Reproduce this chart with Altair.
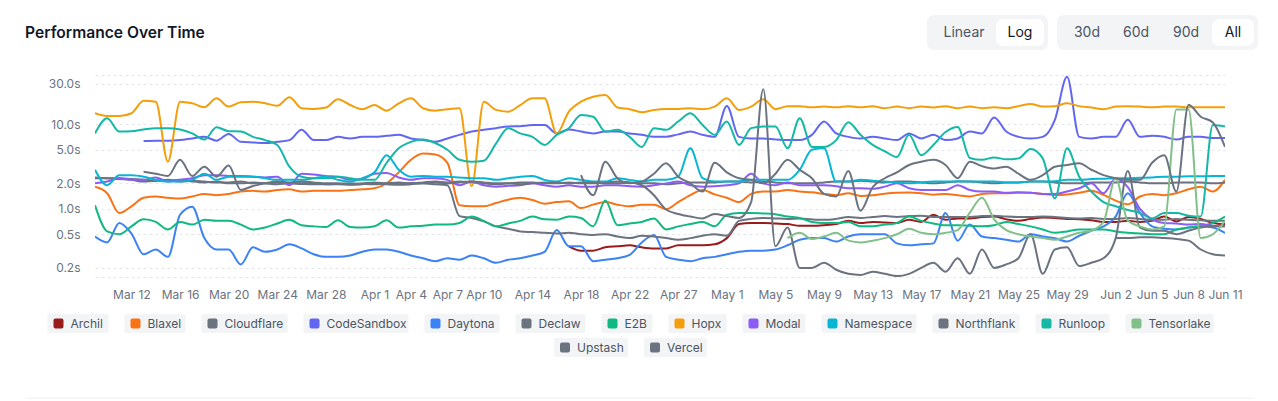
import altair as alt
import pandas as pd

# ---------------- data ----------------
all_days = pd.date_range("2025-03-09", "2025-06-11", freq="D")
days = [d for d in all_days if d != pd.Timestamp("2025-04-25")]
date_labels = [f"{d.strftime('%b')} {d.day}" for d in days]

tick_labels = ["Mar 12", "Mar 16", "Mar 20", "Mar 24", "Mar 28", "Apr 1", "Apr 4", "Apr 7",
               "Apr 10", "Apr 14", "Apr 18", "Apr 22", "Apr 27", "May 1", "May 5", "May 9",
               "May 13", "May 17", "May 21", "May 25", "May 29", "Jun 2", "Jun 5", "Jun 8", "Jun 11"]
y_ticks = [0.2, 0.5, 1, 2, 5, 10, 30]

N = None
archil = [N] * 39 + [
    0.36, 0.32, 0.32, 0.35, 0.36, 0.37, 0.35, 0.34, 0.34, 0.37, 0.37,
    0.37, 0.38, 0.45, 0.66, 0.68, 0.68, 0.67, 0.66, 0.63, 0.63,
    0.64, 0.66, 0.72, 0.68, 0.7, 0.69, 0.68, 0.74, 0.7, 0.85,
    0.74, 0.77, 0.77, 0.8, 0.81, 0.75, 0.72, 0.76, 0.79, 0.78,
    0.76, 0.75, 0.73, 0.7, 0.7, 0.72, 0.7, 0.72, 0.81, 0.71,
    0.8, 0.76, 0.68, 0.66]
blaxel = [
    1.83, 1.53, 0.89, 1.07, 1.35, 1.4, 1.35, 1.32, 1.4, 1.5,
    1.45, 1.5, 1.6, 1.63, 1.6, 1.67, 1.7, 1.6, 1.63, 1.63,
    1.63, 1.67, 1.7, 1.75, 2.0, 2.7, 3.8, 4.5, 4.4, 3.5,
    1.1, 1.07, 1.07, 1.17, 1.28, 1.35, 1.27, 1.15, 1.2, 1.23,
    1.02, 1.12, 1.2, 1.12, 1.07, 1.12, 1.12, 0.99, 1.2, 1.45,
    1.67, 1.48, 1.35, 1.2, 1.5, 1.6, 1.6, 1.67, 1.6, 1.57,
    1.5, 1.45, 1.53, 1.42, 1.45, 1.51, 1.55, 1.56, 1.53, 1.47,
    1.5, 1.45, 1.4, 1.5, 1.53, 1.53, 1.55, 1.55, 1.5, 1.46,
    1.48, 1.55, 1.63, 1.46, 1.25, 1.13, 1.4, 1.5, 1.45, 1.53,
    1.7, 1.83, 1.6, 2.2]
cloudflare = [
    2.3, 2.3, 2.25, 2.2, 2.1, 2.15, 2.2, 2.1, 2.15, 2.1,
    2.05, 2.05, 2.1, 2.0, 2.0, 2.05, 2.0, 2.0, 2.0, 1.95,
    1.97, 2.0, 1.97, 1.95, 2.0, 2.05, 2.0, 2.05, 2.1, 2.05,
    2.1, 2.05, 2.0, 1.95, 2.0, 2.05, 2.05, 2.0, 2.0, 2.05,
    2.0, 2.0, 2.05, 2.1, 2.05, 2.0, 2.0, 1.95, 2.0, 2.05,
    2.05, 2.05, 2.1, 2.1, 2.05, 2.1, 2.05, 2.0, 2.0, 2.0,
    2.05, 2.1, 2.1, 2.15, 2.1, 2.05, 2.1, 2.1, 2.05, 2.0,
    2.05, 2.1, 2.1, 2.05, 2.0, 2.05, 2.05, 2.1, 2.1, 2.05,
    2.0, 2.0, 2.05, 2.05, 2.05, 2.1, 2.05, 2.0, 2.0, 2.05,
    2.05, 2.05, 2.0, 2.05]
codesandbox = [
    N, N, N, N, 6.35, 6.4, 6.4, 6.5, 6.8, 7.1,
    6.4, 7.7, 6.2, 6.1, 6.0, 6.2, 6.5, 8.6, 6.5, 6.5,
    7.1, 6.8, 7.1, 7.1, 7.3, 7.5, 6.8, 6.5, 6.2, 6.8,
    7.5, 8.2, 8.6, 9.0, 9.4, 9.5, 9.8, 9.8, 7.8, 8.7,
    8.2, 7.8, 8.2, 8.2, 7.8, 7.5, 7.1, 7.1, 7.6, 8.2,
    7.5, 7.1, 16.5, 7.1, 6.8, 6.8, 6.6, 6.5, 6.5, 7.5,
    10.8, 7.8, 7.1, 6.8, 7.1, 6.8, 6.5, 7.8, 6.8, 7.5,
    6.5, 6.8, 8.2, 7.8, 12.0, 8.2, 7.1, 6.8, 7.1, 11.3,
    36.5, 7.1, 6.8, 7.1, 7.1, 11.3, 7.1, 7.3, 7.1, 6.6,
    7.1, 7.1, 6.9, 6.9]
daytona = [
    0.47, 0.4, 0.68, 0.51, 0.29, 0.33, 0.27, 0.85, 1.06, 0.45,
    0.33, 0.33, 0.22, 0.35, 0.31, 0.33, 0.38, 0.34, 0.29, 0.27,
    0.27, 0.28, 0.31, 0.33, 0.33, 0.31, 0.28, 0.26, 0.24, 0.26,
    0.25, 0.28, 0.26, 0.23, 0.25, 0.26, 0.28, 0.31, 0.56, 0.36,
    0.36, 0.24, 0.25, 0.26, 0.285, 0.4, 0.49, 0.27, 0.25, 0.24,
    0.26, 0.27, 0.29, 0.31, 0.32, 0.32, 0.33, 0.37, 0.43, 0.45,
    0.45, 0.41, 0.47, 0.5, 0.5, 0.5, 0.39, 0.37, 0.38, 0.39,
    0.89, 0.42, 0.65, 0.47, 0.45, 0.43, 0.41, 0.5, 0.47, 0.45,
    0.41, 0.48, 0.55, 0.62, 0.81, 1.53, 0.89, 0.62, 0.58, 0.57,
    0.6, 0.62, 0.6, 0.52]
declaw = [
    2.35, 2.3, 2.3, 2.25, 2.2, 2.15, 2.15, 2.2, 2.1, 2.05,
    2.1, 2.0, 2.0, 2.05, 2.0, 1.95, 2.0, 1.97, 1.95, 1.95,
    1.95, 1.92, 1.95, 2.0, 1.95, 1.92, 1.95, 2.0, 1.95, 1.9,
    0.82, 0.78, 0.71, 0.62, 0.58, 0.54, 0.53, 0.52, 0.51, 0.52,
    0.5, 0.49, 0.5, 0.47, 0.45, 0.48, 0.47, 0.45, 0.43, 0.45,
    0.48, 0.5, 0.48, 0.72, 0.76, 0.78, 0.77, 0.76, 0.77, 0.75,
    0.74, 0.76, 0.8, 0.78, 0.8, 0.82, 0.8, 0.82, 0.83, 0.8,
    0.8, 0.8, 0.8, 0.82, 0.83, 0.81, 0.8, 0.8, 0.81, 0.8,
    0.78, 0.77, 0.78, 0.76, 0.76, 0.78, 0.76, 0.74, 0.74, 0.76,
    0.74, 0.73, 0.72, 0.72]
e2b = [
    1.1, 0.54, 0.5, 0.62, 0.75, 0.7, 0.57, 0.7, 0.65, 0.74,
    0.72, 0.72, 0.65, 0.57, 0.6, 0.67, 0.74, 0.64, 0.62, 0.61,
    0.73, 0.61, 0.6, 0.62, 0.73, 0.6, 0.62, 0.63, 0.65, 0.65,
    0.68, 0.81, 0.72, 0.62, 0.67, 0.72, 0.81, 0.75, 0.74, 0.81,
    0.78, 0.62, 1.25, 0.64, 0.67, 0.7, 0.77, 0.57, 0.62, 0.66,
    0.7, 0.62, 0.85, 0.89, 0.89, 0.88, 0.86, 0.81, 0.78, 0.7,
    0.68, 0.68, 0.7, 0.62, 0.62, 0.65, 0.68, 0.81, 0.72, 0.67,
    0.64, 0.64, 0.63, 0.62, 0.64, 0.7, 0.66, 0.62, 0.57, 0.52,
    0.54, 0.57, 0.57, 0.57, 0.54, 0.52, 0.51, 0.5, 0.5, 0.57,
    0.6, 0.62, 0.68, 0.81]
hopx = [
    13.5, 12.5, 12.5, 13.5, 19.0, 18.5, 3.6, 18.5, 17.7, 15.9,
    20.3, 16.2, 18.2, 18.5, 17.7, 16.6, 20.9, 15.5, 15.2, 15.8,
    19.8, 16.9, 15.1, 16.9, 14.5, 17.7, 20.3, 15.5, 14.5, 15.1,
    15.5, 1.85, 18.5, 14.8, 14.1, 16.9, 20.3, 20.3, 7.8, 14.1,
    18.5, 21.2, 22.2, 15.8, 15.1, 13.9, 14.8, 15.2, 15.2, 15.5,
    15.1, 16.2, 20.3, 14.8, 16.2, 19.8, 15.1, 16.4, 16.4, 15.9,
    16.2, 15.9, 16.4, 15.9, 16.4, 15.5, 16.2, 15.5, 16.2, 15.8,
    16.4, 15.5, 16.2, 15.5, 15.9, 15.5, 16.4, 17.4, 16.2, 16.4,
    17.7, 16.4, 15.8, 15.1, 16.2, 16.4, 16.2, 15.9, 16.2, 16.2,
    15.9, 15.9, 15.9, 15.9]
modal = [
    2.0, 2.1, 2.3, 2.2, 2.2, 2.35, 2.1, 2.2, 2.3, 2.5,
    2.5, 2.45, 2.45, 2.4, 2.35, 2.4, 1.9, 2.6, 2.55, 2.45,
    2.4, 2.2, 2.25, 2.6, 2.65, 2.35, 2.2, 2.3, 2.3, 2.2,
    1.9, 2.1, 1.9, 1.83, 1.87, 1.9, 2.0, 1.9, 1.83, 1.9,
    1.83, 1.83, 1.9, 1.9, 1.85, 1.83, 1.9, 2.0, 2.1, 1.9,
    1.83, 1.85, 1.9, 2.0, 2.6, 2.0, 1.9, 2.05, 1.9, 1.9,
    1.9, 1.85, 1.75, 1.75, 1.73, 1.83, 2.0, 1.75, 1.67, 1.67,
    1.67, 1.9, 1.67, 1.6, 1.6, 1.55, 1.57, 1.55, 1.5, 1.5,
    1.6, 1.75, 2.0, 1.53, 2.3, 1.8, 1.0, 0.75, 0.68, 0.67,
    0.65, 0.66, 0.63, 0.62]
namespace = [
    2.9, 1.9, 2.5, 2.5, 2.4, 2.2, 2.1, 2.1, 2.2, 2.6,
    2.2, 2.4, 2.4, 2.4, 2.3, 2.2, 2.2, 2.2, 2.3, 2.4,
    2.2, 2.1, 2.3, 2.7, 4.3, 2.9, 2.4, 2.45, 2.4, 2.4,
    2.35, 2.3, 2.3, 2.2, 2.3, 2.4, 2.45, 2.2, 2.1, 2.3,
    2.2, 2.1, 2.1, 2.3, 2.2, 2.1, 2.2, 2.2, 2.4, 5.2,
    2.3, 2.1, 2.1, 2.1, 2.2, 2.2, 2.2, 2.2, 2.9, 5.0,
    5.2, 2.1, 2.1, 2.2, 2.15, 2.1, 2.05, 2.0, 2.05, 2.1,
    2.1, 2.12, 2.1, 2.1, 2.1, 2.05, 2.05, 2.1, 2.1, 2.12,
    2.2, 2.2, 2.25, 2.27, 2.3, 2.3, 2.33, 2.35, 2.4, 2.4,
    2.42, 2.42, 2.45, 2.45]
northflank = [
    N, N, N, N, 2.75, 2.6, 2.45, 3.8, 2.45, 3.15,
    2.4, 3.25, 1.67, 1.86, 2.0, 2.1, 2.05, 2.1, 2.05, 2.0,
    2.0, 1.95, 2.0, 2.05, 2.0, 1.97, 2.0, 2.0, 2.05, 2.0,
    2.05, 2.1, 2.05, 2.0, 2.0, 1.95, 2.0, 2.05, 2.05, 2.0,
    2.05, 2.05, 2.0, 2.0, 2.05, 1.9, 1.45, 0.98, 0.87, 0.81,
    0.77, 0.87, 0.82, 0.78, 1.2, 26.0, 0.36, 0.6, 0.2, 0.2,
    0.23, 0.19, 0.17, 0.165, 0.18, 0.17, 0.16, 0.17, 0.2, 0.23,
    0.18, 0.26, 0.17, 0.33, 0.2, 0.22, 0.26, 0.5, 0.17, 0.33,
    0.35, 0.21, 0.23, 0.26, 0.45, 2.8, 0.6, 0.55, 0.55, 0.5,
    0.55, 0.6, 0.62, 0.62]
runloop = [
    7.8, 11.8, 8.2, 8.3, 8.7, 9.0, 9.0, 8.7, 7.8, 6.6,
    9.2, 8.3, 8.2, 7.1, 6.5, 5.7, 3.15, 2.4, 2.3, 2.3,
    2.4, 2.3, 2.2, 2.2, 3.5, 5.2, 6.2, 6.6, 6.0, 5.0,
    3.8, 3.6, 3.7, 5.9, 9.0, 7.8, 7.1, 5.7, 7.5, 9.0,
    12.9, 12.3, 8.2, 8.6, 7.1, 5.4, 9.0, 8.6, 10.8, 13.5,
    9.8, 7.5, 10.8, 5.7, 9.0, 9.4, 9.4, 5.2, 11.8, 5.4,
    5.4, 6.5, 10.6, 7.5, 5.7, 4.8, 4.1, 7.5, 4.3, 5.7,
    8.1, 9.3, 4.0, 3.8, 4.05, 3.85, 3.95, 5.1, 3.95, 1.33,
    5.2, 2.4, 1.6, 1.2, 1.07, 0.97, 0.89, 0.77, 0.89, 0.89,
    0.83, 0.81, 9.8, 9.4]
tensorlake = [N] * 57 + [
    0.45, 0.52, 0.44,
    0.47, 0.52, 0.42, 0.4, 0.42, 0.45, 0.5, 0.58, 0.52, 0.5,
    0.52, 0.56, 0.9, 1.35, 0.75, 0.56, 0.5, 0.47, 0.45, 0.43,
    0.47, 0.52, 0.55, 0.7, 2.3, 0.72, 0.62, 0.57, 0.62, 15.0,
    15.0, 0.45, 0.5, 0.72]
upstash = [N] * 40 + [
    2.5, 1.45, 3.6, 2.3, 2.0, 2.1, 2.6, 3.45, 2.4, 2.0,
    1.6, 3.5, 2.7, 2.3, 2.2, 2.0, 2.6, 3.8, 2.9, 2.3,
    1.5, 1.4, 2.8, 0.95, 1.8, 2.3, 2.7, 3.3, 3.6, 3.8,
    3.3, 2.3, 3.6, 3.2, 3.0, 3.15, 2.6, 2.2, 2.5, 3.15,
    3.3, 3.45, 2.9, 2.5, 2.3, 2.2, 2.2, 3.5, 4.3, 1.6,
    17.0, 12.3, 10.5, 5.4]
vercel = [N] * 84 + [0.45, 0.45, 0.46, 0.46, 0.45, 0.44, 0.42, 0.33, 0.29, 0.28]

series_names = ["Archil", "Blaxel", "Cloudflare", "CodeSandbox", "Daytona", "Declaw", "E2B",
                "Hopx", "Modal", "Namespace", "Northflank", "Runloop", "Tensorlake", "Upstash", "Vercel"]
series_values = [archil, blaxel, cloudflare, codesandbox, daytona, declaw, e2b,
                 hopx, modal, namespace, northflank, runloop, tensorlake, upstash, vercel]
series_colors = ["#991b1b", "#f97316", "#6b7280", "#6366f1", "#3b82f6", "#6b7280", "#10b981",
                 "#f59e0b", "#8b5cf6", "#06b6d4", "#6b7280", "#14b8a6", "#82c08a", "#6b7280", "#6b7280"]

rows = []
for name, vals in zip(series_names, series_values):
    for i, v in enumerate(vals):
        if v is not None:
            rows.append({"date": date_labels[i], "series": name, "value": v})
df = pd.DataFrame(rows)

# ---------------- layout (pixels) ----------------
W, H = 1130, 202
PAD_L, PAD_T = 95, 75
FONT = "Inter"

y_dom = [0.156, 38.3]

lines = alt.Chart(df).mark_line(interpolate="monotone", strokeWidth=2, clip=True).encode(
    x=alt.X("date:O", sort=date_labels, title=None,
            scale=alt.Scale(type="point", padding=0),
            axis=alt.Axis(values=tick_labels, labelAngle=0, ticks=False, tickSize=0, domain=False,
                          grid=False, labelPadding=12, labelFontSize=12, labelColor="#6b7280",
                          labelFont=FONT, labelOverlap=False, labelFlush=False)),
    y=alt.Y("value:Q", title=None,
            scale=alt.Scale(type="log", domain=y_dom, nice=False),
            axis=alt.Axis(values=[y_dom[0]] + y_ticks + [y_dom[1]], ticks=False, tickSize=0,
                          domain=False, grid=True, gridColor="#e5e7eb", gridDash=[3, 3],
                          labelPadding=15, labelFontSize=12, labelColor="#6b7280", labelFont=FONT,
                          labelExpr="datum.value < 0.19 || datum.value > 35 ? '' : format(datum.value, '.1f') + 's'")),
    color=alt.Color("series:N", scale=alt.Scale(domain=series_names, range=series_colors), legend=None),
)

def px(xv):
    return xv - PAD_L

def py(yv):
    return yv - PAD_T

# header: title and toggle buttons
btn_boxes = pd.DataFrame([
    {"x": px(927), "x2": px(1048), "y": py(15), "y2": py(50), "fill": "#f3f4f6"},
    {"x": px(1057), "x2": px(1258), "y": py(15), "y2": py(50), "fill": "#f3f4f6"},
    {"x": px(996), "x2": px(1044), "y": py(19), "y2": py(46), "fill": "#ffffff"},
    {"x": px(1212), "x2": px(1254), "y": py(19), "y2": py(46), "fill": "#ffffff"},
])
boxes = alt.Chart(btn_boxes).mark_rect(cornerRadius=7).encode(
    x=alt.X("x:Q", scale=None, axis=None), x2="x2:Q",
    y=alt.Y("y:Q", scale=None, axis=None), y2="y2:Q",
    color=alt.Color("fill:N", scale=None),
)
btn_text_df = pd.DataFrame([
    {"t": "Linear", "x": px(964), "c": "#4b5563"},
    {"t": "Log", "x": px(1020), "c": "#111827"},
    {"t": "30d", "x": px(1087), "c": "#4b5563"},
    {"t": "60d", "x": px(1136), "c": "#4b5563"},
    {"t": "90d", "x": px(1186), "c": "#4b5563"},
    {"t": "All", "x": px(1233), "c": "#111827"},
])
btn_text_df["y"] = py(33)
btn_texts = alt.Chart(btn_text_df).mark_text(fontSize=14, font=FONT, align="center", baseline="middle").encode(
    x=alt.X("x:Q", scale=None, axis=None), y=alt.Y("y:Q", scale=None, axis=None),
    text="t:N", color=alt.Color("c:N", scale=None),
)
title = alt.Chart(pd.DataFrame([{"t": "Performance Over Time", "x": px(25), "y": py(33)}])).mark_text(
    fontSize=15.6, fontWeight=600, font=FONT, align="left", baseline="middle", color="#111827"
).encode(x=alt.X("x:Q", scale=None, axis=None), y=alt.Y("y:Q", scale=None, axis=None), text="t:N")

# custom legend (two centred rows with grey pills)
leg_rows = [series_names[:13], series_names[13:]]
leg_widths = {"Archil": 61, "Blaxel": 61, "Cloudflare": 86, "CodeSandbox": 105, "Daytona": 75,
              "Declaw": 70, "E2B": 51, "Hopx": 58, "Modal": 63, "Namespace": 95, "Northflank": 87,
              "Runloop": 74, "Tensorlake": 88, "Upstash": 74, "Vercel": 63}
leg_gap, leg_center, leg_row_y, leg_h = 16, 630.5, [323.5, 347.5], 19
color_of = dict(zip(series_names, series_colors))
leg = []
for r, names in enumerate(leg_rows):
    total = sum(leg_widths[n] for n in names) + leg_gap * (len(names) - 1)
    x0 = leg_center - total / 2
    for n in names:
        w = leg_widths[n]
        cy = leg_row_y[r]
        leg.append({"name": n, "bx": px(x0), "bx2": px(x0 + w), "by": py(cy - leg_h / 2),
                    "by2": py(cy + leg_h / 2), "sx": px(x0 + 6), "sx2": px(x0 + 16),
                    "sy": py(cy - 5), "sy2": py(cy + 5), "tx": px(x0 + 23), "ty": py(cy),
                    "col": color_of[n]})
        x0 += w + leg_gap
leg_df = pd.DataFrame(leg)
leg_bg = alt.Chart(leg_df).mark_rect(cornerRadius=2, color="#f3f4f6").encode(
    x=alt.X("bx:Q", scale=None, axis=None), x2="bx2:Q",
    y=alt.Y("by:Q", scale=None, axis=None), y2="by2:Q")
leg_sw = alt.Chart(leg_df).mark_rect(cornerRadius=2).encode(
    x=alt.X("sx:Q", scale=None, axis=None), x2="sx2:Q",
    y=alt.Y("sy:Q", scale=None, axis=None), y2="sy2:Q",
    color=alt.Color("col:N", scale=None))
leg_tx = alt.Chart(leg_df).mark_text(fontSize=12, font=FONT, align="left", baseline="middle",
                                     color="#4b5563").encode(
    x=alt.X("tx:Q", scale=None, axis=None), y=alt.Y("ty:Q", scale=None, axis=None), text="name:N")

divider = alt.Chart(pd.DataFrame([{"x": px(25), "x2": px(1255), "y": py(398)}])).mark_rule(
    color="#eef0f2", strokeWidth=1).encode(
    x=alt.X("x:Q", scale=None, axis=None), x2="x2:Q", y=alt.Y("y:Q", scale=None, axis=None))

chart = alt.layer(
    lines, boxes, btn_texts, title, leg_bg, leg_sw, leg_tx, divider
).resolve_scale(
    x="independent", y="independent", color="independent"
).properties(
    width=W, height=H,
    autosize=alt.AutoSizeParams(type="none"),
    padding={"left": PAD_L, "top": PAD_T, "right": 1278 - PAD_L - W, "bottom": 401 - PAD_T - H},
    background="white",
).configure_view(stroke=None)

chart.save("out.html", embed_options={"renderer": "svg", "actions": False})
